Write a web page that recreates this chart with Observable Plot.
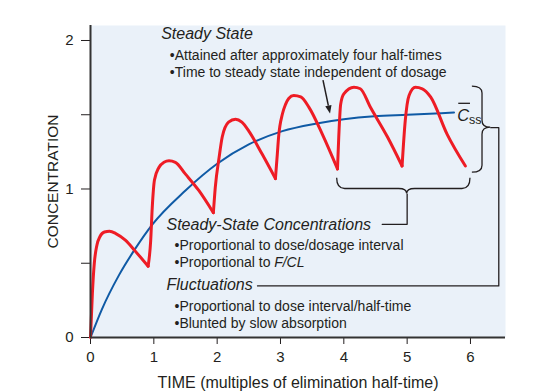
<!DOCTYPE html>
<html><head><meta charset="utf-8">
<script src="https://cdn.jsdelivr.net/npm/d3@7"></script>
<script src="https://cdn.jsdelivr.net/npm/@observablehq/plot@0.6"></script>
<style>body{margin:0;background:#fff}#chart{width:546px;height:392px}</style>
</head><body><div id="chart"></div>
<script>
// ---- axes ----
const xTicks = [0, 1, 2, 3, 4, 5, 6];
const yTicks = [0, 0.5, 1, 1.5, 2];
const yTickLabels = {0: "0", 1: "1", 2: "2"};
const xTitle = "TIME (multiples of elimination half-time)";
const yTitle = "CONCENTRATION";

// ---- red curve: concentration after repeated oral doses (one segment per dose) ----
const redDose = [
  0,0,0,0,0,0,0,0,0,0,0,
  1,1,1,1,1,1,1,1,1,1,1,
  2,2,2,2,2,2,2,2,2,2,
  3,3,3,3,3,3,3,3,3,3,3,
  4,4,4,4,4,4,4,4,4,
  5,5,5,5,5,5,5,5
];
const redTime = [
  0, 0.03, 0.06, 0.10, 0.15, 0.22, 0.30, 0.40, 0.55, 0.71, 0.91,
  0.91, 0.95, 0.975, 1.01, 1.08, 1.16, 1.24, 1.34, 1.50, 1.71, 1.94,
  1.94, 1.97, 2.03, 2.08, 2.18, 2.29, 2.39, 2.50, 2.71, 2.92,
  2.92, 2.95, 2.97, 3.03, 3.08, 3.13, 3.21, 3.32, 3.45, 3.66, 3.90,
  3.90, 3.92, 3.95, 4.00, 4.16, 4.26, 4.42, 4.69, 4.92,
  4.92, 4.97, 5.03, 5.13, 5.24, 5.37, 5.63, 5.92
];
const redConc = [
  0, 0.30, 0.50, 0.62, 0.68, 0.71, 0.715, 0.70, 0.655, 0.58, 0.48,
  0.48, 0.65, 0.875, 1.06, 1.145, 1.18, 1.19, 1.18, 1.10, 0.99, 0.84,
  0.84, 1.01, 1.21, 1.35, 1.45, 1.47, 1.45, 1.39, 1.235, 1.07,
  1.07, 1.235, 1.35, 1.505, 1.57, 1.61, 1.63, 1.62, 1.55, 1.37, 1.135,
  1.135, 1.35, 1.57, 1.64, 1.685, 1.675, 1.55, 1.35, 1.155,
  1.155, 1.46, 1.63, 1.685, 1.675, 1.62, 1.37, 1.155
];

// ---- blue curve: mean concentration approaching steady state ----
const blueTime = [0, 0.18, 0.45, 0.71, 0.975, 1.5, 2.0, 2.5, 3.03, 3.55, 4.0, 4.48, 5.0, 5.74];
const blueConc = [0, 0.19, 0.42, 0.60, 0.76, 0.99, 1.17, 1.30, 1.39, 1.44, 1.47, 1.49, 1.50, 1.515];

// ---- annotations (anchors in data units: time, concentration) ----
const headings = [
  {t: 1.116, c: 2.007, text: "Steady State"},
  {t: 1.200, c: 0.725, text: "Steady-State Concentrations"},
  {t: 1.200, c: 0.318, text: "Fluctuations"}
];
const bullets = [
  {t: 1.253, c: 1.872, text: "•Attained after approximately four half-times"},
  {t: 1.253, c: 1.757, text: "•Time to steady state independent of dosage"},
  {t: 1.326, c: 0.588, text: "•Proportional to dose/dosage interval"},
  {t: 1.326, c: 0.4755, text: "•Proportional to"},
  {t: 1.326, c: 0.179, text: "•Proportional to dose interval/half-time"},
  {t: 1.326, c: 0.066, text: "•Blunted by slow absorption"}
];
const italicBits = [{t: 2.9, c: 0.4755, text: "F/CL"}];
const cssLabel = [{t: 5.79, c: 1.46, text: "C"}];
const cssSub = [{t: 5.975, c: 1.437, text: "ss"}];
const cssBar = [{t1: 5.815, t2: 6.0, c: 1.577}];

// connector lines
const fluctLine = {t: [2.637, 6.447, 6.447, 6.32], c: [0.347, 0.347, 1.413, 1.413]};
const sscLine = {t: [4.606, 5.0, 5.0], c: [0.762, 0.762, 0.966]};
// braces & arrow geometry (data units)
const rightBrace = {tEnd: 6.03, tSpine: 6.19, tTip: 6.32, cTop: 1.69, cMid: 1.413, cBot: 1.11};
const bottomBrace = {t1: 3.895, t2: 6.0, tTip: 5.0, cEnd: 1.072, cSpine: 1.0, cTip: 0.966};
const arrowPts = {t1: 3.679, c1: 1.73, t2: 3.79, c2: 1.505};

const red = redTime.map((t, i) => ({t, c: redConc[i], dose: redDose[i]}));
const blue = blueTime.map((t, i) => ({t, c: blueConc[i]}));
const fl = fluctLine.t.map((t, i) => ({t, c: fluctLine.c[i]}));
const sl = sscLine.t.map((t, i) => ({t, c: sscLine.c[i]}));

const ink = "#231f20";
const font = "'Liberation Sans', Arial, Helvetica, sans-serif";

function decorations(index, {x, y}) {
  const g = d3.create("svg:g").attr("fill", "none").attr("stroke", ink).attr("stroke-width", 1.3);
  // right brace "}"
  {
    const xe = x(rightBrace.tEnd), xs = x(rightBrace.tSpine), xt = x(rightBrace.tTip);
    const y1 = y(rightBrace.cTop), ym = y(rightBrace.cMid), y2 = y(rightBrace.cBot), r = 7;
    const p = d3.path();
    p.moveTo(xe, y1);
    p.quadraticCurveTo(xs, y1, xs, y1 + r);
    p.lineTo(xs, ym - r);
    p.quadraticCurveTo(xs, ym, xt, ym);
    p.quadraticCurveTo(xs, ym, xs, ym + r);
    p.lineTo(xs, y2 - r);
    p.quadraticCurveTo(xs, y2, xe, y2);
    g.append("path").attr("d", p.toString());
  }
  // bottom brace
  {
    const x1 = x(bottomBrace.t1), x2 = x(bottomBrace.t2), xt = x(bottomBrace.tTip);
    const ye = y(bottomBrace.cEnd), ys = y(bottomBrace.cSpine), yt = y(bottomBrace.cTip), r = 8;
    const p = d3.path();
    p.moveTo(x1, ye);
    p.quadraticCurveTo(x1, ys, x1 + r, ys);
    p.lineTo(xt - r, ys);
    p.quadraticCurveTo(xt, ys, xt, yt);
    p.quadraticCurveTo(xt, ys, xt + r, ys);
    p.lineTo(x2 - r, ys);
    p.quadraticCurveTo(x2, ys, x2, ye);
    g.append("path").attr("d", p.toString());
  }
  // arrow with filled head
  {
    const ax1 = x(arrowPts.t1), ay1 = y(arrowPts.c1), ax2 = x(arrowPts.t2), ay2 = y(arrowPts.c2);
    const ang = Math.atan2(ay2 - ay1, ax2 - ax1), L = 8, W = 3.2;
    const bx = ax2 - L * Math.cos(ang), by = ay2 - L * Math.sin(ang);
    g.append("line").attr("x1", ax1).attr("y1", ay1).attr("x2", bx).attr("y2", by).attr("stroke-width", 1.5);
    const nx = -Math.sin(ang) * W, ny = Math.cos(ang) * W;
    g.append("path").attr("d", `M${ax2},${ay2}L${bx + nx},${by + ny}L${bx - nx},${by - ny}Z`)
      .attr("fill", ink).attr("stroke", "none");
  }
  return g.node();
}

const chart = Plot.plot({
  width: 546, height: 392,
  marginLeft: 90, marginRight: 41, marginTop: 25, marginBottom: 55,
  style: {fontFamily: font, fontSize: "15px", color: ink, background: "white", overflow: "visible"},
  x: {domain: [0, 6.553], ticks: xTicks, tickSize: 7, tickPadding: 7, label: null, tickFormat: d => String(d)},
  y: {domain: [0, 2.101], ticks: yTicks, tickSize: 9, tickPadding: 8, label: null, tickFormat: d => yTickLabels[d] ?? ""},
  marks: [
    Plot.frame({fill: "#eaf1f9", stroke: "none"}),
    Plot.line(blue, {x: "t", y: "c", stroke: "#0f5aa5", strokeWidth: 2, curve: "monotone-x"}),
    Plot.line(red, {x: "t", y: "c", z: "dose", stroke: "#ee1c25", strokeWidth: 3, curve: "monotone-x", strokeLinecap: "round", strokeLinejoin: "round"}),
    Plot.ruleY([0], {stroke: "#333", strokeWidth: 2}),
    Plot.ruleX([0], {stroke: "#333", strokeWidth: 2}),
    Plot.line(fl, {x: "t", y: "c", stroke: ink, strokeWidth: 1.3}),
    Plot.line(sl, {x: "t", y: "c", stroke: ink, strokeWidth: 1.3}),
    decorations,
    Plot.text(headings, {x: "t", y: "c", text: "text", textAnchor: "start", lineAnchor: "bottom", fontSize: 16, fontStyle: "italic", fill: ink}),
    Plot.text(bullets, {x: "t", y: "c", text: "text", textAnchor: "start", lineAnchor: "bottom", fontSize: 14, fill: ink}),
    Plot.text(italicBits, {x: "t", y: "c", text: "text", textAnchor: "start", lineAnchor: "bottom", fontSize: 14, fontStyle: "italic", fill: ink}),
    Plot.text(cssLabel, {x: "t", y: "c", text: "text", textAnchor: "start", lineAnchor: "bottom", fontSize: 16.5, fontStyle: "italic", fill: ink}),
    Plot.text(cssSub, {x: "t", y: "c", text: "text", textAnchor: "start", lineAnchor: "bottom", fontSize: 12.5, fill: ink}),
    Plot.ruleY(cssBar, {x1: "t1", x2: "t2", y: "c", stroke: ink, strokeWidth: 1.3}),
    Plot.text([xTitle], {frameAnchor: "bottom", dy: 50, textAnchor: "middle", lineAnchor: "bottom", fontSize: 16, fill: ink}),
    Plot.text([yTitle], {frameAnchor: "left", dx: -37, textAnchor: "middle", rotate: -90, fontSize: 15.5, fill: ink})
  ]
});
document.getElementById("chart").appendChild(chart);
</script>
</body></html>
